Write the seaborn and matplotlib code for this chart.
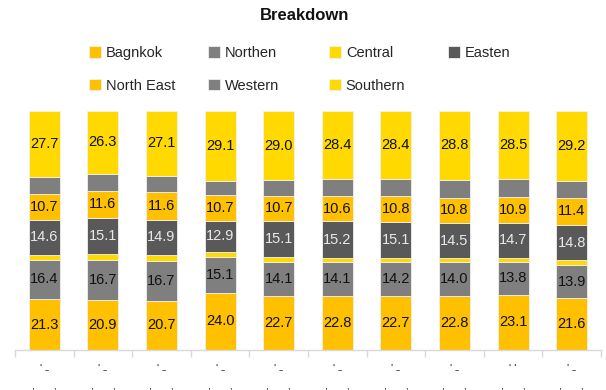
import numpy as np
import matplotlib
matplotlib.use("Agg")
import matplotlib.pyplot as plt
import seaborn as sns

# ---- data ----
tick_labels = ["' ˗\n,      ,", "' ˗\n,      ,", "' ˗\n,      ,", "' ˗\n,      ,", "' ˗\n,      ,",
               "' ˗\n,      ,", "' ˗\n,      ,", "' ˗\n,      ,", "' '\n,      ,", "' ˗\n,      ,"]
bagnkok = [21.3, 20.9, 20.7, 24.0, 22.7, 22.8, 22.7, 22.8, 23.1, 21.6]
northen = [16.4, 16.7, 16.7, 15.1, 14.1, 14.1, 14.2, 14.0, 13.8, 13.9]
central = [2.2, 2.4, 2.3, 2.1, 2.0, 1.7, 1.5, 1.7, 1.7, 2.0]
easten = [14.6, 15.1, 14.9, 12.9, 15.1, 15.2, 15.1, 14.5, 14.7, 14.8]
north_east = [10.7, 11.6, 11.6, 10.7, 10.7, 10.6, 10.8, 10.8, 10.9, 11.4]
western = [7.2, 7.0, 6.7, 6.1, 6.4, 7.2, 7.3, 7.4, 7.3, 7.1]
southern = [27.7, 26.3, 27.1, 29.1, 29.0, 28.4, 28.4, 28.8, 28.5, 29.2]

series_names = ["Bagnkok", "Northen", "Central", "Easten", "North East", "Western", "Southern"]
series_vals = [bagnkok, northen, central, easten, north_east, western, southern]
colors = ["#FFC000", "#7F7F7F", "#FFD900", "#595959", "#FFC000", "#7F7F7F", "#FFD900"]
label_colors = ["#111111", "#111111", None, "#E8E8E8", "#111111", None, "#111111"]

sns.set_theme(style="white")
plt.rcParams["font.family"] = ["Liberation Sans", "DejaVu Sans"]

W, H = 606, 390
fig = plt.figure(figsize=(W / 100, H / 100), dpi=100)
ax = fig.add_axes([15 / W, 40 / H, (601 - 15) / W, (350 - 111) / H])

pos = list(range(len(bagnkok)))
bottom = np.zeros(len(pos))
containers = []
for name, vals, col, lcol in zip(series_names, series_vals, colors, label_colors):
    sns.barplot(x=pos, y=vals, color=col, saturation=1, bottom=bottom, width=0.53,
                errorbar=None, ax=ax, edgecolor="#F0F0F0", linewidth=0.6)
    cont = ax.containers[-1]
    containers.append(cont)
    if lcol is not None:
        ax.bar_label(cont, labels=[f"{v:.1f}" for v in vals], label_type="center",
                     color=lcol, fontsize=10.5)
    bottom = bottom + np.array(vals)

ax.set_ylim(0, 100)
ax.set_xlim(-0.5, len(pos) - 0.5)
ax.set_yticks([])
ax.set_ylabel("")
for s in ["left", "top", "right"]:
    ax.spines[s].set_visible(False)
ax.spines["bottom"].set_color("#D9D9D9")
ax.spines["bottom"].set_linewidth(1)
ax.set_xticks(pos)
ax.set_xticklabels(tick_labels, fontsize=8, color="#222222", linespacing=1.9)
ax.set_xticks(np.arange(-0.5, len(pos), 1), minor=True)
ax.tick_params(axis="x", which="major", length=0, pad=10)
ax.tick_params(axis="x", which="minor", length=5, color="#D9D9D9", width=1, bottom=True)

fig.text(305 / W, 1 - 16 / H, "Breakdown", ha="center", va="center",
         fontsize=12, fontweight="bold", color="#111111")

cols = [[0, 4], [1, 5], [2, 6], [3]]
xs = [89, 208, 329, 448]
for idxs, x in zip(cols, xs):
    fig.legend([containers[i] for i in idxs], [series_names[i] for i in idxs],
               loc="upper left", bbox_to_anchor=(x / W, 1 - 46 / H), frameon=False,
               borderpad=0, borderaxespad=0, handlelength=0.85, handleheight=0.85,
               handletextpad=0.3, labelspacing=1.27, fontsize=10.5)

fig.savefig("out.png", dpi=100)
